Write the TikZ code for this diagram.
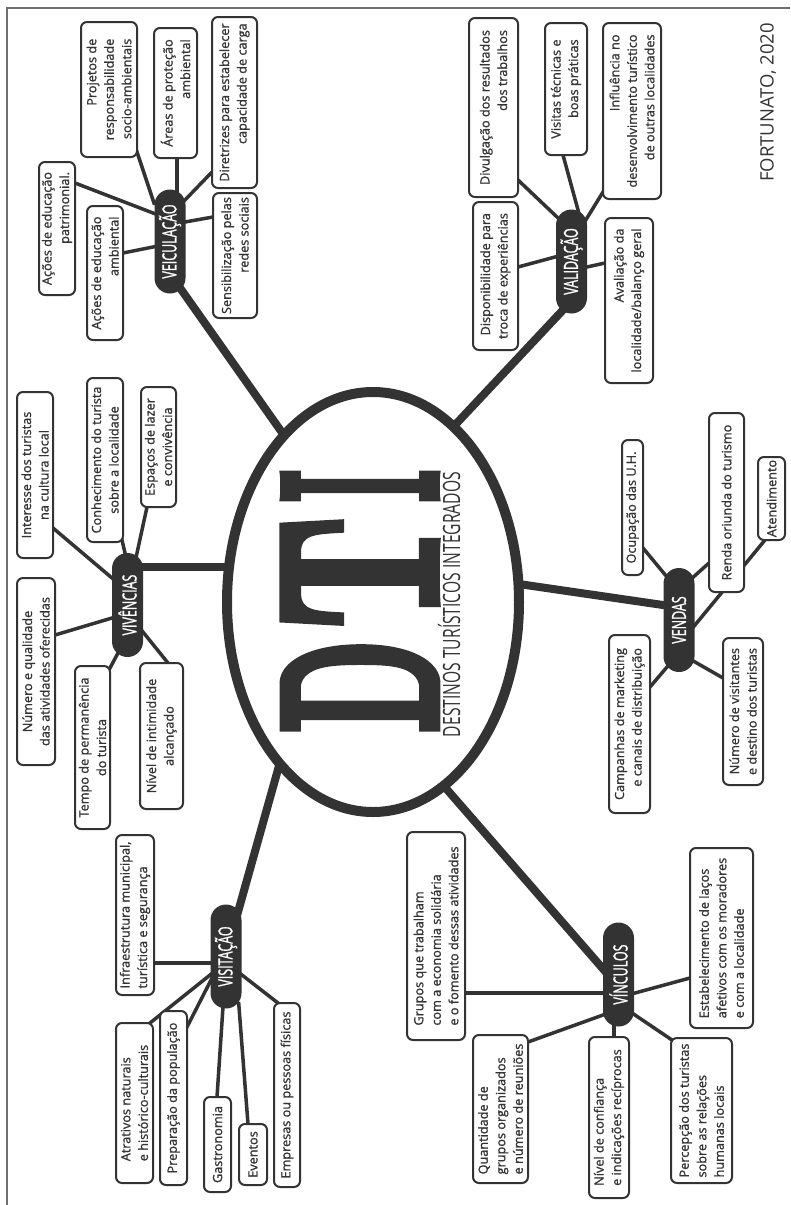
\documentclass[tikz,border=0pt]{standalone}
\usepackage{graphicx}
\usepackage{fontspec}
\usetikzlibrary{calc,backgrounds,shapes.geometric}
\newfontfamily\osans{Open Sans}
\newfontfamily\osansleaf[UprightFeatures={FakeBold=1.1}]{Open Sans}
\newfontfamily\osanshub[UprightFeatures={FakeBold=1.6}]{Open Sans}
\newfontfamily\dtifont[BoldFeatures={FakeBold=5}]{Latin Modern Roman}
\definecolor{ink}{HTML}{333333}
\definecolor{framegray}{HTML}{6E6E6E}
\newcommand\leaffont{\osansleaf\fontsize{12.7}{17.5}\selectfont}
\newcommand\hubfont{\osanshub\fontsize{19.5}{20}\selectfont}
\newcommand\hublabel[1]{\scalebox{0.64}[1]{#1}}
\begin{document}
\begin{tikzpicture}[x=1pt,y=-1pt,
  leaf/.style={draw=ink, line width=2pt, rounded corners=6pt, fill=white,
    rotate=90, inner sep=2pt, text=ink, font=\leaffont},
  hub/.style={fill=ink, rounded corners=15.5pt, rotate=90, inner sep=0pt,
    minimum width=104pt, minimum height=31pt, text=white, font=\hubfont},
  title/.style={rotate=90, inner sep=0pt, text=ink, font=\dtifont\bfseries},
  twig/.style={draw=ink, line width=3.5pt, shorten <=-5pt, shorten >=-5pt},
  trunk/.style={draw=ink, line width=8pt, shorten <=-8pt}]
\useasboundingbox (0,0) rectangle (790,1205);
\begin{pgfonlayer}{background}
  \fill[white] (0,0) rectangle (790,1205);
\end{pgfonlayer}
% frame lines
\draw[framegray, line width=2pt] (6.5,1205) -- (6.5,8) -- (790,8);

% central ellipse with the title
\node[draw=ink, line width=10pt, fill=white, ellipse, inner sep=0pt,
  minimum width=292pt, minimum height=420pt] (E) at (373,602) {};
\node[title] (dI) at (360,486) {\resizebox{32pt}{150pt}{I}};
\node[title] (dT) at (360,572.5) {\resizebox{111pt}{150pt}{T}};
\node[title] (dD) at (360,686.5) {\resizebox{93pt}{150pt}{D}};
\node[rotate=90, inner sep=0pt, text=ink] (sub) at (451.5,604.5)
  {\resizebox{265pt}{17pt}{\osans\vphantom{D}\smash{DESTINOS TURÍSTICOS INTEGRADOS}}};

% source
\node[rotate=90, inner sep=0pt, text=ink, font=\osans\fontsize{18.5}{18.5}\selectfont] (src) at (768,102.5) {FORTUNATO, 2020};

% hubs
\node[hub] (veic) at (170,241.5) {\hublabel{VEICULAÇÃO}};
\node[hub] (valid) at (571.5,261.5) {\hublabel{VALIDAÇÃO}};
\node[hub] (viv) at (127.5,605) {\hublabel{VIVÊNCIAS}};
\node[hub] (vend) at (679,620) {\hublabel{VENDAS}};
\node[hub] (visit) at (226,956.5) {\hublabel{VISITAÇÃO}};
\node[hub] (vinc) at (618.5,974.5) {\hublabel{VÍNCULOS}};

% Veiculação
\node[leaf, align=right, minimum width=135pt, minimum height=56pt] (projetos) at (109,89.5) {Projetos de\\responsabilidade\\socio-ambientais};
\node[leaf, align=right, minimum width=130pt, minimum height=43pt] (areas) at (175.5,93) {Áreas de proteção\\ambiental};
\node[leaf, align=right, minimum width=171pt, minimum height=45pt] (diretrizes) at (234.5,102.5) {Diretrizes para estabelecer\\capacidade de carga};
\node[leaf, align=right, minimum width=133pt, minimum height=36pt] (patrimonial) at (57,228.5) {Ações de educação\\patrimonial.};
\node[leaf, align=right, minimum width=134pt, minimum height=36pt] (ambiental) at (105,273) {Ações de educação\\ambiental};
\node[leaf, align=right, minimum width=125pt, minimum height=44pt] (sensib) at (235,255.5) {Sensibilização pelas\\redes sociais};

% Validação
\node[leaf, align=right, minimum width=179pt, minimum height=49pt] (divulg) at (493.5,107.5) {Divulgação dos resultados\\dos trabalhos};
\node[leaf, align=right, minimum width=132pt, minimum height=42pt] (visitas) at (566,89) {Visitas técnicas e\\boas práticas};
\node[leaf, align=right, minimum width=176pt, minimum height=58pt] (influencia) at (632,111) {Influência no\\desenvolvimento turístico\\de outras localidades};
\node[leaf, align=right, minimum width=148pt, minimum height=45pt] (disponib) at (495.5,276) {Disponibilidade para\\troca de experiências};
\node[leaf, align=right, minimum width=165pt, minimum height=48pt] (avaliacao) at (629,300.5) {Avaliação da\\localidade/balanço geral};

% Vivências
\node[leaf, align=center, minimum width=166pt, minimum height=36pt] (interesse) at (35,475) {Interesse dos turistas\\na cultura local};
\node[leaf, align=center, minimum width=164pt, minimum height=36pt] (conhec) at (105,460) {Conhecimento do turista\\sobre a localidade};
\node[leaf, align=center, minimum width=120pt, minimum height=35pt] (espacos) at (158.5,447) {Espaços de lazer\\e convivência};
\node[leaf, align=center, minimum width=187pt, minimum height=38pt] (numero) at (36,671.5) {Número e qualidade\\das atividades oferecidas};
\node[leaf, align=center, minimum width=163pt, minimum height=35pt] (tempo) at (92.5,747.5) {Tempo de permanência\\do turista};
\node[leaf, align=center, minimum width=146pt, minimum height=43pt] (nivelint) at (161.5,736) {Nível de intimidade\\alcançado};

% Visitação
\node[leaf, align=left, minimum width=160pt, minimum height=38pt] (infra) at (135,915) {Infraestrutura municipal,\\turística e segurança};
\node[leaf, align=left, minimum width=160pt, minimum height=37pt] (atrativos) at (134.5,1103) {Atrativos naturais\\e histórico-culturais};
\node[leaf, align=left, minimum width=174pt, minimum height=27pt] (preparacao) at (173.5,1098) {Preparação da população};
\node[leaf, align=left, minimum width=95pt, minimum height=27pt] (gastro) at (217.5,1144.5) {Gastronomia};
\node[leaf, align=left, minimum width=61pt, minimum height=28pt] (eventos) at (253,1154.5) {Eventos};
\node[leaf, align=left, minimum width=184pt, minimum height=26pt] (empresas) at (287,1095) {Empresas ou pessoas físicas};

% Vendas
\node[leaf, align=right, minimum width=135pt, minimum height=21pt] (ocupacao) at (632.5,507.5) {Ocupação das U.H.};
\node[leaf, align=right, minimum width=179pt, minimum height=35pt] (renda) at (726.5,502.5) {Renda oriunda do turismo};
\node[leaf, align=right, minimum width=83pt, minimum height=27pt] (atend) at (771.5,498.5) {Atendimento};
\node[leaf, align=right, minimum width=178pt, minimum height=41pt] (campanhas) at (629.5,724) {Campanhas de marketing\\e canais de distribuição};
\node[leaf, align=right, minimum width=147pt, minimum height=40pt] (numvis) at (743,711.5) {Número de visitantes\\e destino dos turistas};

% Vínculos
\node[leaf, align=left, minimum width=208pt, minimum height=58pt] (grupos) at (436,936) {Grupos que trabalham\\com a economia solidária\\e o fomento dessas atividades};
\node[leaf, align=left, minimum width=180pt, minimum height=63pt] (estab) at (721.5,938) {Estabelecimento de laços\\afetivos com os moradores\\e com a localidade};
\node[leaf, align=left, minimum width=148pt, minimum height=55pt] (quant) at (500.5,1109) {Quantidade de\\grupos organizados\\e número de reuniões};
\node[leaf, align=left, minimum width=161pt, minimum height=40pt] (confianca) at (609,1117.5) {Nível de confiança\\e indicações recíprocas};
\node[leaf, align=left, minimum width=145pt, minimum height=61pt] (percepcao) at (701.5,1110.5) {Percepção dos turistas\\sobre as relações\\humanas locais};

\begin{pgfonlayer}{background}
  % trunks from the ellipse to each hub
  \draw[trunk] ($(veic)+(8,43.5)$) -- ($(E)+(-73,-144)$);
  \draw[trunk] ($(valid)+(-8.5,48.5)$) -- ($(E)+(67,-161)$);
  \draw[trunk] ($(viv)+(15.5,-38)$) -- ($(E)+(-133,-35)$);
  \draw[trunk] ($(vend)+(-16,-15)$) -- ($(E)+(132,-20)$);
  \draw[trunk] ($(visit)+(12,-44.5)$) -- ($(E)+(-89,146)$);
  \draw[trunk] ($(vinc)+(-14.5,-4.5)$) -- ($(E)+(57,168)$);

  % Veiculação
  \draw[twig] ($(veic)+(-17,-41.5)$) -- ($(projetos)+(28,62.5)$);
  \draw[twig] ($(veic)+(7,-49.5)$) -- ($(areas)+(1.5,65)$);
  \draw[twig] ($(veic)+(15,-41.5)$) -- ($(diretrizes)+(-22.5,69.5)$);
  \draw[twig] ($(veic)+(-17,-28.5)$) -- ($(patrimonial)+(18,-45.5)$);
  \draw[twig] ($(veic)+(-17,5.5)$) -- ($(ambiental)+(18,-20)$);
  \draw[twig] ($(veic)+(15,-19.5)$) -- ($(sensib)+(-22,-38.5)$);

  % Validação
  \draw[twig] ($(valid)+(-14.5,-44.5)$) -- ($(divulg)+(24.5,72.5)$);
  \draw[twig] ($(valid)+(6.5,-51.5)$) -- ($(visitas)+(-3,66)$);
  \draw[twig] ($(valid)+(15.5,-43.5)$) -- ($(influencia)+(-29,81)$);
  \draw[twig] ($(valid)+(-16.5,-4.5)$) -- ($(disponib)+(22.5,-9)$);
  \draw[twig] ($(valid)+(15.5,5.5)$) -- ($(avaliacao)+(-24,-37.5)$);

  % Vivências
  \draw[twig] ($(viv)+(-15.5,-27)$) -- ($(interesse)+(18,53)$);
  \draw[twig] ($(viv)+(-2.5,-52)$) -- ($(conhec)+(17,80)$);
  \draw[twig] ($(viv)+(9.5,-52)$) -- ($(espacos)+(-11.5,60)$);
  \draw[twig] ($(viv)+(-15.5,13)$) -- ($(numero)+(19,-36.5)$);
  \draw[twig] ($(viv)+(-9.5,48)$) -- ($(tempo)+(17.5,-79.5)$);
  \draw[twig] ($(viv)+(15.5,27)$) -- ($(nivelint)+(6.5,-73)$);

  % Visitação
  \draw[twig] ($(visit)+(-16,6.5)$) -- ($(infra)+(19,48)$);
  \draw[twig] ($(visit)+(-16,18.5)$) -- ($(atrativos)+(15.5,-80)$);
  \draw[twig] ($(visit)+(-16,25.5)$) -- ($(preparacao)+(13.5,-71)$);
  \draw[twig] ($(visit)+(-3,50.5)$) -- ($(gastro)+(-0.5,-47.5)$);
  \draw[twig] ($(visit)+(13,50.5)$) -- ($(eventos)+(-5,-30.5)$);
  \draw[twig] ($(visit)+(16,18.5)$) -- ($(empresas)+(-9,-92)$);

  % Vendas
  \draw[twig] ($(vend)+(-12,-43)$) -- ($(ocupacao)+(10.5,40.5)$);
  \draw[twig] ($(vend)+(11,-40)$) -- ($(renda)+(-17.5,60.5)$);
  \draw[twig] ($(vend)+(16,5)$) -- ($(atend)+(-6.5,41.5)$);
  \draw[twig] ($(vend)+(-12,47)$) -- ($(campanhas)+(20.5,-37)$);
  \draw[twig] ($(vend)+(16,42)$) -- ($(numvis)+(-20,-33.5)$);

  % Vínculos
  \draw[twig] ($(vinc)+(-16.5,18.5)$) -- ($(grupos)+(29,57)$);
  \draw[twig] ($(vinc)+(16.5,18.5)$) -- ($(estab)+(-31.5,40)$);
  \draw[twig] ($(vinc)+(-15.5,40.5)$) -- ($(quant)+(27.5,-67)$);
  \draw[twig] ($(vinc)+(-4.5,52.5)$) -- ($(confianca)+(5,-80.5)$);
  \draw[twig] ($(vinc)+(16.5,40.5)$) -- ($(percepcao)+(-29.5,-70.5)$);
\end{pgfonlayer}
\end{tikzpicture}
\end{document}
